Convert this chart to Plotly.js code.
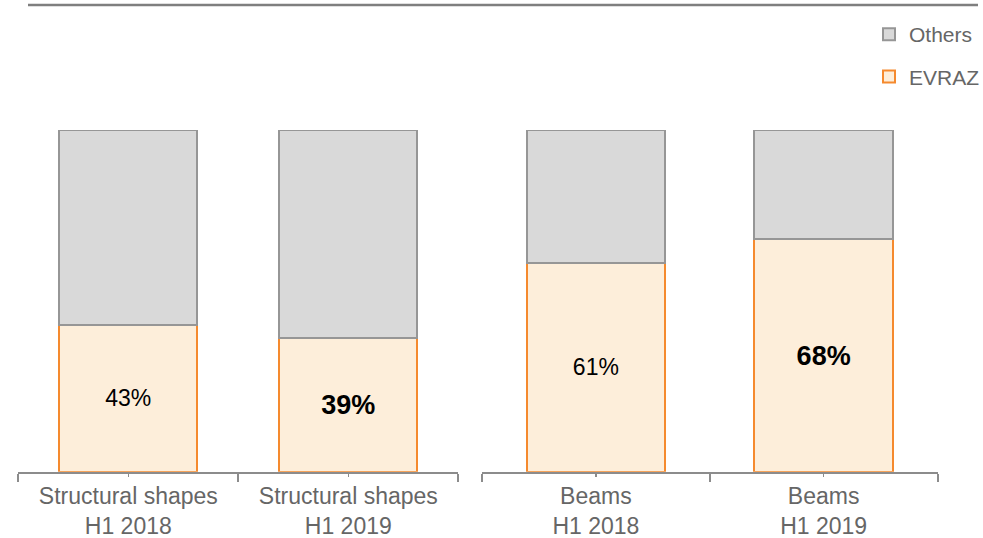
<!DOCTYPE html>
<html>
<head>
<meta charset="utf-8">
<script src="https://cdn.plot.ly/plotly-3.0.1.min.js"></script>
<style>
  html, body { margin: 0; padding: 0; background: #ffffff; }
  #chart { width: 983px; height: 538px; }
</style>
</head>
<body>
<div id="chart"></div>
<script>
// Market share of EVRAZ vs. other producers, by product and half-year
const periods = ['H1 2018', 'H1 2019'];
const structuralLabel = 'Structural shapes';
const beamsLabel = 'Beams';
const structuralEvraz = [43, 39];
const structuralOthers = [57, 61];
const beamsEvraz = [61, 68];
const beamsOthers = [39, 32];

const FONT = '"Liberation Sans", Arial, sans-serif';
const GREY_TEXT = '#666666';
const OTHERS_FILL = '#d9d9d9';
const OTHERS_LINE = '#969696';
const EVRAZ_FILL = '#fdeeda';
const EVRAZ_LINE = '#f58a2e';

const xIdx = periods.map((_, i) => i);
// the latest period is emphasised in bold
const pctText = vals => vals.map((v, i) => i === periods.length - 1 ? '<b>' + v + '%</b>' : v + '%');
const pctSize = vals => vals.map((v, i) => i === periods.length - 1 ? 27 : 23);

function evrazTrace(vals, xa, ya, width, show) {
  return {
    type: 'bar', name: 'EVRAZ', legendgroup: 'evraz', legendrank: 2, showlegend: show,
    x: xIdx, y: vals, xaxis: xa, yaxis: ya, width: width,
    marker: { color: EVRAZ_FILL, line: { color: EVRAZ_LINE, width: 2 } },
    text: pctText(vals), textposition: 'inside', insidetextanchor: 'middle',
    textangle: 0, constraintext: 'none',
    textfont: { family: FONT, color: '#000000', size: pctSize(vals) },
    hoverinfo: 'skip'
  };
}
function othersTrace(vals, xa, ya, width, show) {
  return {
    type: 'bar', name: 'Others', legendgroup: 'others', legendrank: 1, showlegend: show,
    x: xIdx, y: vals, xaxis: xa, yaxis: ya, width: width,
    marker: { color: OTHERS_FILL, line: { color: OTHERS_LINE, width: 2 } },
    textposition: 'none', hoverinfo: 'skip'
  };
}

const data = [
  evrazTrace(structuralEvraz, 'x', 'y', 0.627, true),
  othersTrace(structuralOthers, 'x', 'y', 0.627, true),
  evrazTrace(beamsEvraz, 'x2', 'y2', 0.608, false),
  othersTrace(beamsOthers, 'x2', 'y2', 0.608, false)
];

const W = 983, H = 538;
function xAxis(product, domain) {
  return {
    domain: domain, range: [-0.5, periods.length - 0.5], fixedrange: true,
    showline: true, linecolor: '#8c8c8c', linewidth: 2,
    showgrid: false, zeroline: false, automargin: false,
    tickmode: 'array', tickvals: xIdx,
    ticktext: periods.map(p => product + '<br>' + p),
    ticks: 'outside', ticklen: 3, tickwidth: 1.5, tickcolor: '#8c8c8c',
    minor: { ticks: 'outside', tick0: -0.5, dtick: 1, ticklen: 8, tickwidth: 2, tickcolor: '#8c8c8c', showgrid: false },
    tickfont: { family: FONT, size: 23, color: GREY_TEXT }
  };
}
function yAxis(anchor) {
  return {
    domain: [1 - 471.7 / H, 1 - 130 / H], range: [0, 100], anchor: anchor,
    visible: false, showgrid: false, zeroline: false, fixedrange: true, automargin: false
  };
}

const layout = {
  width: W, height: H,
  margin: { l: 0, r: 0, t: 0, b: 0, autoexpand: false },
  paper_bgcolor: '#ffffff', plot_bgcolor: 'rgba(0,0,0,0)',
  barmode: 'stack',
  font: { family: FONT, color: GREY_TEXT },
  xaxis: xAxis(structuralLabel, [18.3 / W, 458.3 / W]),
  xaxis2: xAxis(beamsLabel, [482 / W, 937.5 / W]),
  yaxis: yAxis('x'),
  yaxis2: yAxis('x2'),
  showlegend: true,
  legend: {
    x: 869 / W, xanchor: 'left', y: 1 - 14 / H, yanchor: 'top',
    traceorder: 'grouped', tracegroupgap: 12,
    font: { family: FONT, size: 21, color: GREY_TEXT },
    bgcolor: 'rgba(0,0,0,0)', borderwidth: 0
  },
  shapes: [{
    type: 'line', xref: 'paper', yref: 'paper',
    x0: 28 / W, x1: 978 / W, y0: 1 - 5 / H, y1: 1 - 5 / H,
    line: { color: '#7f7f7f', width: 2.5 }
  }]
};

Plotly.newPlot('chart', data, layout, { staticPlot: true, displayModeBar: false });
</script>
</body>
</html>
